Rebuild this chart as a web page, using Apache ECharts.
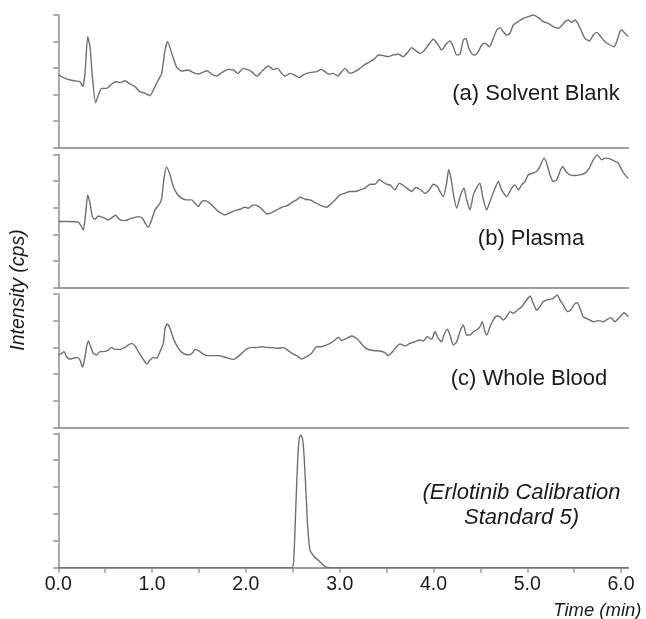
<!DOCTYPE html>
<html>
<head>
<meta charset="utf-8">
<script src="https://cdn.jsdelivr.net/npm/echarts@6/dist/echarts.min.js"></script>
<style>
html,body{margin:0;padding:0;background:#fff;}
#chart{width:646px;height:619px;}
</style>
</head>
<body>
<div id="chart"></div>
<script>
// ---- Data (time in min, intensity in % of panel full scale) ----
const timeA = [0.000,0.071,0.178,0.231,0.260,0.285,0.313,0.338,0.363,0.398,0.427,0.462,0.516,0.569,0.622,0.658,0.711,0.764,0.818,0.871,0.924,0.978,1.013,1.066,1.102,1.138,1.166,1.209,1.262,1.315,1.386,1.440,1.493,1.582,1.635,1.688,1.742,1.813,1.866,1.912,1.973,2.026,2.061,2.115,2.168,2.239,2.292,2.339,2.381,2.417,2.470,2.516,2.566,2.612,2.648,2.694,2.754,2.801,2.843,2.886,2.932,2.978,3.021,3.057,
  3.110,3.163,3.216,3.270,3.323,3.376,3.412,3.465,3.518,3.571,3.625,3.678,3.731,3.767,3.803,3.856,3.891,3.945,3.998,4.051,4.087,4.133,4.176,4.211,4.247,4.282,4.318,4.346,4.371,4.407,4.442,4.478,4.514,4.549,4.595,4.638,4.674,4.709,4.744,4.780,4.816,4.851,4.904,4.957,5.011,5.064,5.117,5.171,5.224,5.277,5.331,5.367,5.402,5.437,5.473,5.509,5.544,5.580,5.615,5.661,5.704,5.740,5.775,5.828,5.882,5.924,5.953,5.988,6.006,6.042,6.077];
const intensityA = [54.8,52.3,50.3,49.7,46.0,56.0,83.6,76.1,53.5,33.9,39.7,44.7,44.7,48.0,49.7,49.0,50.5,48.0,46.0,42.2,41.0,39.2,43.5,51.0,56.0,73.6,79.9,71.1,60.6,57.8,58.6,56.5,55.5,58.0,55.5,54.0,56.5,59.0,58.6,56.0,59.8,58.6,57.3,54.0,57.3,61.6,59.0,59.8,56.0,54.0,56.0,54.8,52.8,54.8,56.0,56.8,57.3,59.0,57.3,55.3,56.0,54.0,57.3,59.8,
  56.0,57.3,59.8,62.8,64.8,67.3,69.9,69.4,68.6,69.9,70.4,68.6,72.4,75.4,73.6,71.1,72.4,77.4,81.7,77.4,73.6,77.9,80.4,76.1,69.9,70.4,81.2,82.4,76.1,71.1,69.9,72.4,77.4,78.7,76.1,82.4,88.7,90.5,87.4,84.9,86.2,92.5,95.0,97.5,98.7,100.0,98.0,95.0,93.7,91.2,90.0,92.0,95.0,96.2,94.5,96.2,93.0,87.4,82.4,80.4,84.9,86.9,84.4,79.9,77.4,76.1,79.9,87.4,88.7,86.2,83.7];

const timeB = [0.000,0.107,0.213,0.242,0.267,0.292,0.313,0.338,0.363,0.391,0.427,0.480,0.533,0.587,0.611,0.658,0.711,0.782,0.853,0.896,0.931,0.960,0.995,1.031,1.084,1.102,1.130,1.155,1.191,1.226,1.262,1.315,1.368,1.422,1.457,1.493,1.528,1.564,1.606,1.653,1.688,1.724,1.777,1.830,1.884,1.937,1.990,2.026,2.061,2.097,2.140,2.186,2.221,2.275,2.328,2.381,2.434,2.488,2.541,2.577,2.630,2.683,2.737,2.808,2.861,2.896,2.950,
  3.003,3.057,3.110,3.163,3.216,3.270,3.323,3.376,3.422,3.465,3.500,3.536,3.589,3.635,3.678,3.714,3.767,3.813,3.856,3.909,3.955,3.998,4.041,4.069,4.105,4.140,4.162,4.186,4.211,4.247,4.290,4.325,4.354,4.389,4.425,4.467,4.496,4.524,4.567,4.602,4.656,4.691,4.727,4.780,4.834,4.869,4.905,4.940,4.976,5.011,5.057,5.100,5.135,5.178,5.206,5.242,5.277,5.313,5.348,5.377,5.412,5.455,5.509,5.562,5.615,5.661,5.704,5.747,5.793,5.828,5.882,5.924,5.971,6.006,6.042,6.077];
const intensityB = [49.6,49.6,49.1,46.3,43.3,55.8,69.6,63.3,53.3,51.3,53.8,52.6,50.8,53.3,54.3,50.8,50.3,52.1,53.3,52.1,47.8,45.3,50.8,58.3,63.3,67.1,83.4,90.4,84.6,75.8,70.8,67.1,65.8,65.8,63.3,60.8,64.6,65.3,63.8,60.8,58.3,56.3,54.6,56.3,57.8,58.8,60.3,59.6,61.3,62.1,60.8,57.8,55.3,56.3,58.3,60.3,61.3,63.8,65.8,67.8,66.3,65.8,63.8,61.3,60.3,62.1,65.8,
  69.6,70.8,72.1,72.1,73.3,74.6,77.6,77.6,80.9,79.1,77.6,77.1,73.3,78.4,76.6,74.6,72.1,75.1,73.8,70.8,73.3,77.6,75.8,72.1,68.3,78.4,88.4,82.1,70.8,59.6,69.6,74.6,65.8,58.3,69.6,75.8,78.4,68.3,58.3,64.6,74.6,79.6,73.3,68.3,74.6,77.1,73.3,77.1,79.6,84.6,85.9,87.1,90.9,97.1,93.4,84.6,79.6,80.9,87.1,90.9,87.1,84.6,84.1,84.6,85.9,89.6,95.9,99.6,95.9,97.1,96.6,95.1,93.4,88.4,84.6,82.1];

const timeC = [0.000,0.036,0.061,0.089,0.125,0.160,0.203,0.231,0.260,0.285,0.302,0.320,0.345,0.373,0.409,0.445,0.480,0.523,0.569,0.604,0.658,0.711,0.747,0.782,0.818,0.853,0.899,0.942,0.978,1.013,1.049,1.084,1.120,1.138,1.162,1.191,1.226,1.280,1.333,1.386,1.433,1.457,1.493,1.546,1.599,1.653,1.706,1.759,1.813,1.866,1.909,1.955,2.008,2.062,2.115,2.168,2.221,2.275,2.328,2.399,2.452,2.506,2.559,2.595,2.648,2.701,2.754,2.808,2.861,2.897,
  2.950,2.985,3.021,3.074,3.127,3.163,3.198,3.234,3.270,3.323,3.376,3.430,3.483,3.518,3.554,3.607,3.643,3.696,3.749,3.803,3.856,3.891,3.934,3.980,4.016,4.051,4.087,4.112,4.147,4.176,4.211,4.247,4.282,4.318,4.354,4.389,4.425,4.460,4.496,4.520,4.549,4.567,4.603,4.638,4.674,4.709,4.745,4.780,4.816,4.851,4.887,4.940,4.993,5.029,5.064,5.100,5.135,5.171,5.207,5.242,5.277,5.320,5.349,5.384,5.427,5.462,5.509,5.533,5.562,5.597,5.651,5.704,5.757,5.811,5.853,5.889,5.935,5.971,6.006,6.031,6.060,6.077];
const intensityC = [54.4,55.6,56.9,53.1,51.4,51.9,52.6,50.6,45.2,53.1,60.6,64.8,60.6,55.6,54.4,56.9,56.9,57.6,60.1,58.6,58.6,60.1,61.9,63.1,61.1,56.9,51.9,47.6,50.6,52.6,51.9,56.9,63.1,74.3,77.6,74.3,66.8,59.4,55.6,54.4,56.1,58.6,57.6,55.1,53.9,53.9,53.9,53.1,51.9,51.1,52.6,55.6,58.9,60.1,59.9,60.6,60.1,59.9,59.4,59.9,57.6,55.1,53.1,51.4,53.1,55.6,60.6,60.6,61.9,63.1,
  65.6,67.6,65.1,66.8,68.6,67.6,65.6,62.6,59.9,58.1,57.6,57.4,56.1,53.9,56.1,60.6,62.6,61.1,63.1,64.3,65.6,64.8,68.1,66.3,71.8,66.8,64.3,69.3,73.6,69.3,61.9,64.3,71.8,76.8,69.3,69.3,71.8,73.1,75.6,79.3,71.8,69.3,75.6,80.6,83.5,83.0,80.6,83.0,86.8,85.5,87.5,90.5,95.5,98.5,93.0,88.0,90.5,94.3,95.5,96.0,96.8,99.3,95.5,91.8,86.8,88.0,93.0,93.5,89.3,83.0,81.1,79.3,80.1,79.3,81.1,82.3,79.3,81.8,84.3,86.0,84.3,83.0];

const timeD = [0.000,2.490,2.513,2.534,2.552,2.569,2.588,2.606,2.623,2.641,2.659,2.683,2.730,2.789,2.840,2.900,6.077];
const intensityD = [0,0,10.7,47.9,80.1,96.3,98.7,95.0,80.1,55.4,30.5,13.2,8.0,4.5,1.0,0,0];

const panelLabels = ['(a) Solvent Blank', '(b) Plasma', '(c) Whole Blood'];
const standardLabel = ['(Erlotinib Calibration', 'Standard 5)'];
const xTickValues = [0,0.5,1.0,1.5,2.0,2.5,3.0,3.5,4.0,4.5,5.0,5.5,6.0];
const xLabelValues = [0,1,2,3,4,5,6];
const xTitle = 'Time (min)';
const yTitle = 'Intensity (cps)';
const xMax = 6.077;

// ---- Chart ----
const pair = (t, v) => t.map((x, i) => [x, v[i]]);
const series = [pair(timeA, intensityA), pair(timeB, intensityB), pair(timeC, intensityC), pair(timeD, intensityD)];

const FONT = '"Liberation Sans", Arial, Helvetica, sans-serif';
const gridTops = [15, 154.3, 294, 433.3];
const gridHeights = [132.7, 133.4, 133.7, 134.4];
const axisGray = '#8f8f8f';
const lineGray = '#9e9e9e';

const grids = gridTops.map((t, i) => ({ left: 58.3, right: 17.7, top: t, height: gridHeights[i], containLabel: false }));

const xAxes = gridTops.map((t, i) => {
  const last = i === 3;
  return {
    type: 'value', gridIndex: i, min: 0, max: xMax,
    axisLine: { show: true, onZero: false, lineStyle: { color: lineGray, width: 2 } },
    axisTick: last ? { show: true, length: 5, customValues: xTickValues, lineStyle: { color: lineGray, width: 1.5 } } : { show: false },
    axisLabel: last ? { show: true, customValues: xLabelValues, formatter: v => v.toFixed(1), color: '#1a1a1a', fontSize: 19.5, fontFamily: FONT, margin: 7 } : { show: false },
    splitLine: { show: false }
  };
});

const yAxes = gridTops.map((t, i) => ({
  type: 'value', gridIndex: i, min: 0, max: 100, interval: 20,
  axisLine: { show: true, lineStyle: { color: axisGray, width: 1.5 } },
  axisTick: { show: true, length: 5, lineStyle: { color: axisGray, width: 1.5 } },
  axisLabel: { show: false },
  splitLine: { show: false }
}));

const seriesOpt = series.map((d, i) => ({
  type: 'line', xAxisIndex: i, yAxisIndex: i, data: d,
  showSymbol: false, smooth: 0.2,
  lineStyle: { color: '#6f6f6f', width: 1.4 },
  animation: false, z: 1
}));

const labelCenters = [[536, 94], [531, 239], [529, 379]];
const graphics = panelLabels.map((txt, i) => ({
  type: 'text', x: labelCenters[i][0], y: labelCenters[i][1],
  style: { text: txt, fill: '#1a1a1a', font: '22px ' + FONT, textAlign: 'center', textVerticalAlign: 'middle' }
}));
graphics.push({
  type: 'text', x: 521.5, y: 493,
  style: { text: standardLabel[0], fill: '#1a1a1a', font: 'italic 22px ' + FONT, textAlign: 'center', textVerticalAlign: 'middle' }
});
graphics.push({
  type: 'text', x: 521.5, y: 518,
  style: { text: standardLabel[1], fill: '#1a1a1a', font: 'italic 22px ' + FONT, textAlign: 'center', textVerticalAlign: 'middle' }
});
graphics.push({
  type: 'text', x: 641.5, y: 611,
  style: { text: xTitle, fill: '#1a1a1a', font: 'italic 18.5px ' + FONT, textAlign: 'right', textVerticalAlign: 'middle' }
});
graphics.push({
  type: 'text', x: 19, y: 290, rotation: Math.PI / 2,
  style: { text: yTitle, fill: '#1a1a1a', font: 'italic 19.5px ' + FONT, textAlign: 'center', textVerticalAlign: 'middle' }
});

const chart = echarts.init(document.getElementById('chart'), null, { renderer: 'canvas' });
chart.setOption({
  backgroundColor: '#ffffff',
  animation: false,
  grid: grids,
  xAxis: xAxes,
  yAxis: yAxes,
  series: seriesOpt,
  graphic: graphics
});
</script>
</body>
</html>
